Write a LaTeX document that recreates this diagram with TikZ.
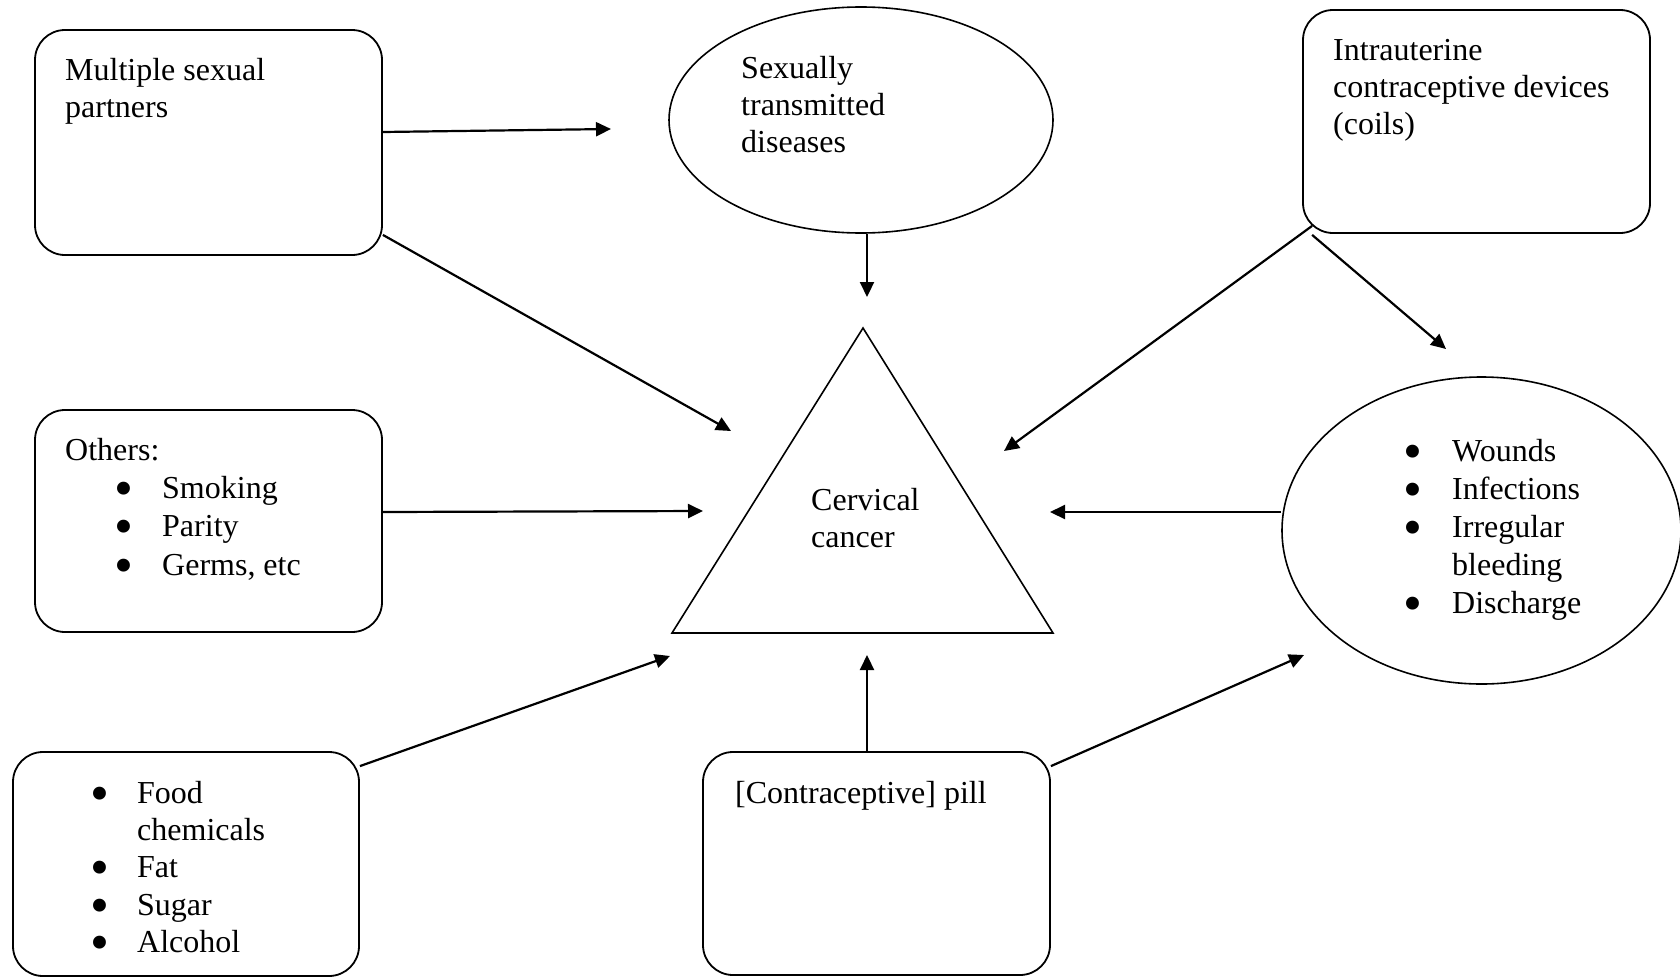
\documentclass[tikz,border=0pt]{standalone}
\usepackage{fontspec}
\setmainfont{Liberation Serif}
\usetikzlibrary{arrows.meta,shapes.geometric}
\newcommand\mybul{\smash{\raisebox{-8pt}{\fontsize{54}{54}\selectfont\textbullet}}}
\begin{document}
\begin{tikzpicture}[x=1pt,y=-1pt,
  box/.style={draw, line width=1.8pt, rounded corners=30pt, inner sep=0pt},
  oval/.style={draw, line width=1.6pt, ellipse, inner sep=0pt},
  txt/.style={anchor=north west, align=left, inner sep=0pt},
  arr/.style={line width=2.2pt, -{Triangle[length=15pt,width=14pt]}}]
\useasboundingbox (0,0) rectangle (1680,977);
% shapes
\node[box, minimum width=347pt, minimum height=225pt] (msp) at (208.5,142.5) {};
\node[box, minimum width=347pt, minimum height=223pt] (iud) at (1476.5,121.5) {};
\node[box, minimum width=347pt, minimum height=222pt] (others) at (208.5,521) {};
\node[box, minimum width=346pt, minimum height=224pt] (food) at (186,864) {};
\node[box, minimum width=347pt, minimum height=223pt] (pill) at (876.5,863.5) {};
\node[oval, minimum width=384pt, minimum height=226pt] (std) at (861,120) {};
\node[oval, minimum width=399pt, minimum height=307pt] (sym) at (1481.5,530.5) {};
\coordinate (apex) at (863,328);
\coordinate (bl) at (672,633);
\coordinate (br) at (1053,633);
\draw[line width=1.6pt] (apex) -- (br) -- (bl) -- cycle;
% texts
\node[txt, font=\fontsize{32}{37}\selectfont] (tmsp) at (65,54.1) {\strut Multiple sexual\\partners};
\node[txt, font=\fontsize{32}{37}\selectfont] (tstd) at (741,52.1) {\strut Sexually\\transmitted\\diseases};
\node[txt, font=\fontsize{32}{37}\selectfont] (tiud) at (1333,34.1) {\strut Intrauterine\\contraceptive devices\\(coils)};
\node[txt, font=\fontsize{32}{38.3}\selectfont] (toth) at (65,433.2) {\strut Others:\\
  \hspace*{49pt}\makebox[48pt][l]{\mybul}Smoking\\
  \hspace*{49pt}\makebox[48pt][l]{\mybul}Parity\\
  \hspace*{49pt}\makebox[48pt][l]{\mybul}Germs, etc};
\node[txt, font=\fontsize{32}{37}\selectfont] (tcc) at (811,484.1) {\strut Cervical\\cancer};
\node[txt, font=\fontsize{32}{38}\selectfont] (tsym) at (1403,434.4) {\strut\makebox[49pt][l]{\mybul}Wounds\\
  \makebox[49pt][l]{\mybul}Infections\\
  \makebox[49pt][l]{\mybul}Irregular\\
  \hspace*{49pt}bleeding\\
  \makebox[49pt][l]{\mybul}Discharge};
\begin{scope}
\clip (0,0) rectangle (1680,954);
\node[txt, font=\fontsize{32}{37.3}\selectfont] (tfood) at (90,776.9) {\strut\makebox[47pt][l]{\mybul}Food\\
  \hspace*{47pt}chemicals\\
  \makebox[47pt][l]{\mybul}Fat\\
  \makebox[47pt][l]{\mybul}Sugar\\
  \makebox[47pt][l]{\mybul}Alcohol};
\end{scope}
\node[txt, font=\fontsize{32}{37}\selectfont] (tpill) at (735,777.1) {\strut[Contraceptive] pill};
% arrow end points
\coordinate (e1) at (611,129);
\coordinate (e2) at (867,297);
\coordinate (e3) at (731,431);
\coordinate (e4) at (1004,451);
\coordinate (e5) at (1446,349);
\coordinate (e6) at (703,511);
\coordinate (e7) at (1050,512);
\coordinate (e8) at (670,656);
\coordinate (e9) at (867,655);
\coordinate (e10) at (1304,655);
% arrows
\draw[arr] ([yshift=10.5pt]msp.east) -- (e1);
\draw[arr] ([xshift=6pt]std.south) -- (e2);
\draw[arr] ([yshift=21pt]msp.south east) -- (e3);
\draw[arr] ([xshift=10pt,yshift=8pt]iud.south west) -- (e4);
\draw[arr] ([xshift=10pt,yshift=-1pt]iud.south west) -- (e5);
\draw[arr] ([yshift=9pt]others.east) -- (e6);
\draw[arr] ([yshift=18.5pt]sym.west) -- (e7);
\draw[arr] ([yshift=-15pt]food.north east) -- (e8);
\draw[arr] ([xshift=-9.5pt]pill.north) -- (e9);
\draw[arr] ([yshift=-15pt]pill.north east) -- (e10);
\end{tikzpicture}
\end{document}
